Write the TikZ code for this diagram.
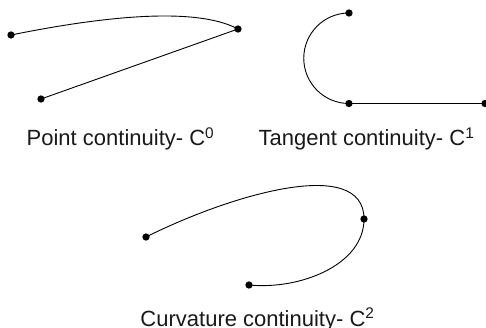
\documentclass[tikz,border=0pt]{standalone}
\usepackage{fontspec}
\setmainfont{Liberation Sans}
\begin{document}
\begin{tikzpicture}[x=1pt,y=-1pt,
  dot/.style={circle,fill=black,inner sep=0pt,minimum size=7.3pt},
  curve/.style={line width=0.9pt,black},
  lbl/.style={anchor=base,inner sep=0pt,font=\fontsize{22}{26}\selectfont,text=black!90}]
\useasboundingbox (0,0) rectangle (486,328);
% C0
\node[dot] (a0) at (11,35) {};
\node[dot] (b0) at (238,29) {};
\node[dot] (c0) at (41,99) {};
\draw[curve] (a0.center) .. controls (100,17) and (195,6) .. (b0.center);
\draw[curve] (c0.center) -- (b0.center);
\node[lbl] (l0) at (120.5,145.7) {Point continuity- C\textsuperscript{0}};
% C1
\node[dot] (t1) at (349,13) {};
\node[dot] (b1) at (349,103.5) {};
\node[dot] (r1) at (485,103.5) {};
\draw[curve] (t1.center) arc[start angle=270,end angle=90,radius=45.25];
\draw[curve] (b1.center) -- (r1.center);
\node[lbl] (l1) at (366.5,145.7) {Tangent continuity- C\textsuperscript{1}};
% C2
\node[dot] (a2) at (146,237) {};
\node[dot] (r2) at (364,219) {};
\node[dot] (b2) at (249,285) {};
\draw[curve] (a2.center) .. controls (230,195) and (364,155) .. (r2.center);
\draw[curve] (r2.center) .. controls (364,265) and (300,290) .. (b2.center);
\node[lbl] (l2) at (257.5,326) {Curvature continuity- C\textsuperscript{2}};
\end{tikzpicture}
\end{document}
